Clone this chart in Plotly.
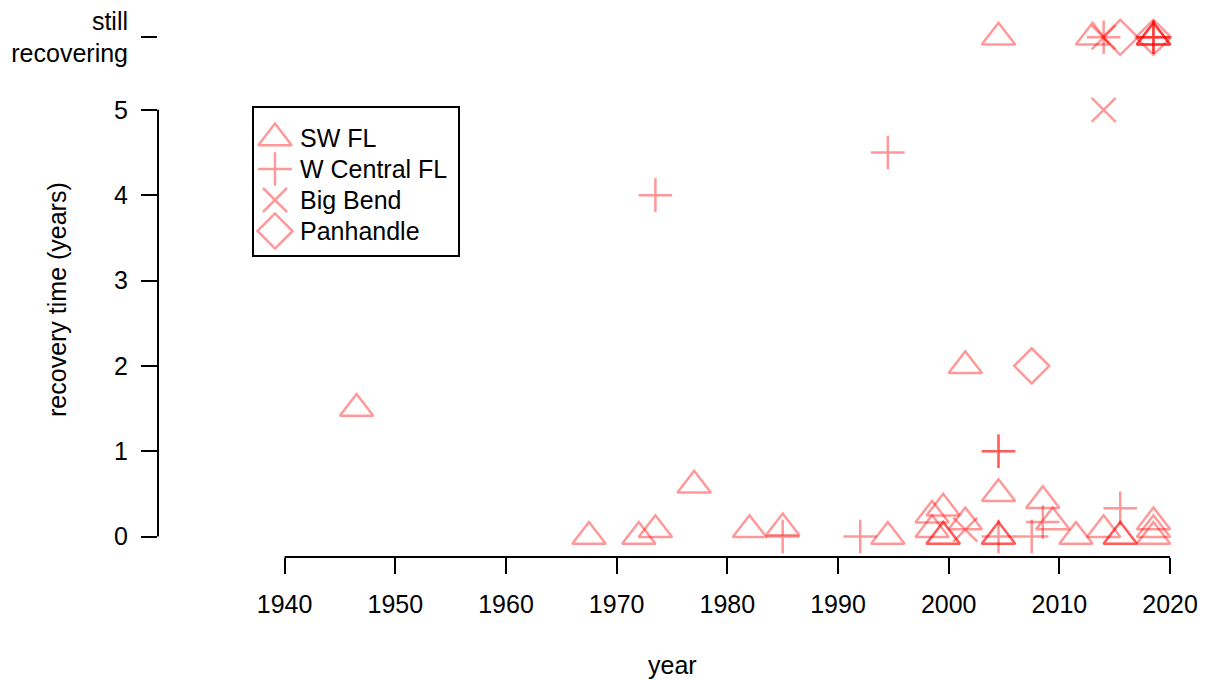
import plotly.graph_objects as go

# ---- data -------------------------------------------------------------
STILL = 5.85  # position used for "still recovering"

sw_fl_year = [1946.5, 1967.5, 1972.0, 1973.5, 1977.0, 1982.0, 1985.0, 1994.5,
              1998.5, 1998.5, 1999.5, 1999.5, 1999.5, 2001.5, 2001.5,
              2004.5, 2004.5, 2004.5, 2004.5, 2008.5, 2009.4, 2011.5,
              2013.0, 2014.0, 2015.5, 2015.5, 2018.5, 2018.5, 2018.5,
              2018.5, 2018.5, 2018.5]
sw_fl_time = [1.5, 0.0, 0.0, 0.08, 0.6, 0.08, 0.1, 0.0,
              0.25, 0.08, 0.33, 0.0, 0.0, 0.17, 2.0,
              0.5, 0.0, 0.0, STILL, 0.42, 0.17, 0.0,
              STILL, 0.08, 0.0, 0.0, 0.17, 0.08, 0.0,
              STILL, STILL, STILL]

wc_fl_year = [1973.5, 1985.0, 1992.0, 1994.5, 2004.5, 2004.5, 2004.5, 2007.5,
              2008.5, 2015.5, 2014.0, 2018.5, 2018.5, 2018.5]
wc_fl_time = [4.0, 0.0, 0.0, 4.5, 1.0, 1.0, 0.0, 0.0,
              0.17, 0.33, STILL, STILL, STILL, STILL]

bb_year = [2001.5, 2014.0, 2014.0]
bb_time = [0.08, 5.0, STILL]

ph_year = [2007.5, 2015.5, 2018.5]
ph_time = [2.0, STILL, STILL]

series_names = ["SW FL", "W Central FL", "Big Bend", "Panhandle"]
x_ticks = [1940, 1950, 1960, 1970, 1980, 1990, 2000, 2010, 2020]
y_ticks = [0, 1, 2, 3, 4, 5, STILL]
y_tick_text = ["0", "1", "2", "3", "4", "5", "still<br>recovering"]

# ---- styling ----------------------------------------------------------
W, H = 1207, 680
ML, MR, MT, MB = 158, 21, 4, 123
FONT = "Liberation Sans, Arial, sans-serif"
FS = 25
RED = "rgba(255,0,0,0.4)"
LW = 2.5

symbols = ["triangle-up-open", "cross-thin-open", "x-thin-open", "diamond-open"]
sizes = [29, 24, 24, 27]
data = [(sw_fl_year, sw_fl_time), (wc_fl_year, wc_fl_time),
        (bb_year, bb_time), (ph_year, ph_time)]


def px_x(p):
    """Horizontal pixel position -> paper fraction."""
    return (p - ML) / (W - ML - MR)


def px_y(p):
    """Vertical pixel position (from top) -> paper fraction."""
    return (H - MB - p) / (H - MT - MB)


fig = go.Figure()
for (xs, ys), name, sym, sz in zip(data, series_names, symbols, sizes):
    fig.add_trace(go.Scatter(
        x=xs, y=ys, mode="markers", name=name, showlegend=False,
        marker=dict(symbol=sym, size=sz, color=RED,
                    line=dict(color=RED, width=LW)),
        hoverinfo="x+y+name",
    ))

# ---- legend key drawn on a pixel-unit overlay axis pair ----------------
leg_x_sym, leg_x_text = 275, 298
leg_rows = [138, 169, 200, 231]
leg_box = (253, 107, 459, 256)

for name, sym, sz, yy in zip(series_names, symbols, sizes, leg_rows):
    fig.add_trace(go.Scatter(
        x=[leg_x_sym], y=[yy], xaxis="x2", yaxis="y2", mode="markers",
        showlegend=False, hoverinfo="skip",
        marker=dict(symbol=sym, size=sz, color=RED,
                    line=dict(color=RED, width=LW)),
    ))
    fig.add_annotation(x=px_x(leg_x_text), y=px_y(yy), xref="paper", yref="paper",
                       text=name, showarrow=False, xanchor="left", yanchor="middle",
                       font=dict(family=FONT, size=FS, color="black"))

fig.add_shape(type="rect", xref="paper", yref="paper",
              x0=px_x(leg_box[0]), y0=px_y(leg_box[1]),
              x1=px_x(leg_box[2]), y1=px_y(leg_box[3]),
              line=dict(color="black", width=2), fillcolor="rgba(0,0,0,0)")

# ---- axis lines (limited to the tick span) ----------------------------
fig.add_shape(type="line", xref="x", yref="paper", x0=x_ticks[0], x1=x_ticks[-1],
              y0=0, y1=0, line=dict(color="black", width=2))
fig.add_shape(type="line", xref="paper", yref="y", x0=0, x1=0, y0=0, y1=5,
              line=dict(color="black", width=2))

# ---- axis titles -------------------------------------------------------
fig.add_annotation(x=px_x(672), y=px_y(665), xref="paper", yref="paper",
                   text="year", showarrow=False,
                   xanchor="center", yanchor="middle",
                   font=dict(family=FONT, size=FS, color="black"))
fig.add_annotation(x=px_x(57), y=px_y(300), xref="paper", yref="paper",
                   text="recovery time (years)", showarrow=False, textangle=-90,
                   xanchor="center", yanchor="middle",
                   font=dict(family=FONT, size=FS, color="black"))

fig.update_layout(
    width=W, height=H,
    margin=dict(l=ML, r=MR, t=MT, b=MB, pad=0),
    paper_bgcolor="white", plot_bgcolor="white",
    font=dict(family=FONT, size=FS, color="black"),
    showlegend=False,
    xaxis=dict(range=[1928.56, 2021.44], tickvals=x_ticks,
               ticks="outside", ticklen=16, tickwidth=2, tickcolor="black",
               showline=False, showgrid=False, zeroline=False,
               ticklabelstandoff=9,
               tickfont=dict(family=FONT, size=FS, color="black")),
    yaxis=dict(range=[-0.24, 6.24], tickvals=y_ticks, ticktext=y_tick_text,
               ticks="outside", ticklen=16, tickwidth=2, tickcolor="black",
               showline=False, showgrid=False, zeroline=False,
               ticklabelstandoff=8,
               tickfont=dict(family=FONT, size=FS, color="black")),
    xaxis2=dict(overlaying="x", range=[ML, W - MR], visible=False),
    yaxis2=dict(overlaying="y", range=[H - MB, MT], visible=False),
)

fig.write_html("out.html")
